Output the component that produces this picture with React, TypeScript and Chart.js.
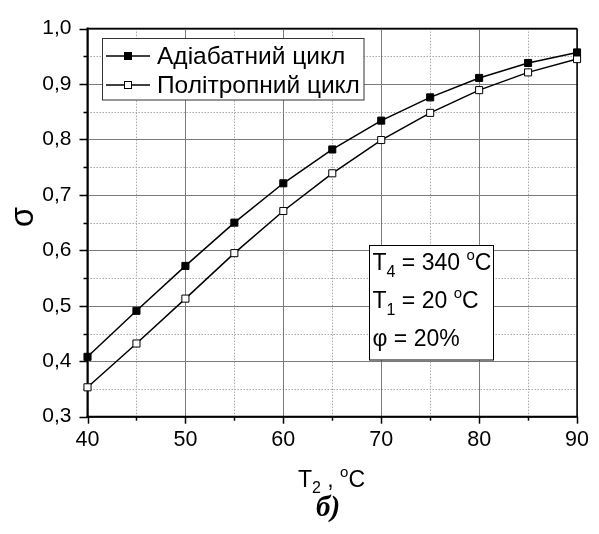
import { useEffect, useRef } from 'react';
import { Chart, registerables } from 'chart.js';

Chart.register(...registerables);

const temperatures = [40, 45, 50, 55, 60, 65, 70, 75, 80, 85, 90];
const adiabatic = [0.408, 0.491, 0.572, 0.65, 0.721, 0.782, 0.834, 0.876, 0.911, 0.938, 0.957];
const polytropic = [0.353, 0.432, 0.513, 0.595, 0.671, 0.739, 0.799, 0.848, 0.889, 0.921, 0.945];
const seriesLabels = ['Адіабатний цикл', 'Політропний цикл'];
const xMajorTicks = [40, 50, 60, 70, 80, 90];
const xMinorTicks = [45, 55, 65, 75, 85];
const yMajorTicks = [0.3, 0.4, 0.5, 0.6, 0.7, 0.8, 0.9, 1.0];
const yMinorTicks = [0.35, 0.45, 0.55, 0.65, 0.75, 0.85, 0.95];

const SANS = '"Liberation Sans", Arial, sans-serif';

type Seg = { t: string; s: number; dy?: number };

function drawRich(ctx: CanvasRenderingContext2D, x: number, y: number, segs: Seg[]) {
  let cx = x;
  for (const sg of segs) {
    ctx.font = `${sg.s}px ${SANS}`;
    ctx.fillText(sg.t, cx, y + (sg.dy || 0));
    cx += ctx.measureText(sg.t).width;
  }
}

const customPlugin = {
  id: 'customDecor',
  beforeDatasetsDraw(chart: any) {
    const { ctx, chartArea: a, scales } = chart;
    const x = scales.x;
    const y = scales.y;
    const px = (v: number) => Math.round(x.getPixelForValue(v)) + 0.5;
    const py = (v: number) => Math.round(y.getPixelForValue(v)) + 0.5;
    const line = (x1: number, y1: number, x2: number, y2: number) => {
      ctx.beginPath();
      ctx.moveTo(x1, y1);
      ctx.lineTo(x2, y2);
      ctx.stroke();
    };
    ctx.save();
    // minor dotted grid
    ctx.strokeStyle = '#a8a8a8';
    ctx.lineWidth = 1;
    ctx.setLineDash([1.5, 1.5]);
    xMinorTicks.forEach((v) => line(px(v), a.top, px(v), a.bottom));
    yMinorTicks.forEach((v) => line(a.left, py(v), a.right, py(v)));
    // major grid
    ctx.setLineDash([]);
    ctx.strokeStyle = '#7a7a7a';
    xMajorTicks.forEach((v) => line(px(v), a.top, px(v), a.bottom));
    yMajorTicks.forEach((v) => line(a.left, py(v), a.right, py(v)));
    // frame
    ctx.strokeStyle = '#000';
    ctx.lineWidth = 1.5;
    line(a.left, a.top, a.right, a.top);
    line(a.right, a.top, a.right, a.bottom);
    ctx.lineWidth = 2;
    line(a.left, a.top - 1, a.left, a.bottom + 1);
    line(a.left - 1, a.bottom, a.right + 1, a.bottom);
    // ticks
    ctx.lineWidth = 1.5;
    xMajorTicks.forEach((v) => line(px(v), a.bottom, px(v), a.bottom + 7));
    xMinorTicks.forEach((v) => line(px(v), a.bottom, px(v), a.bottom + 4));
    yMajorTicks.forEach((v) => line(a.left, py(v), a.left - 8, py(v)));
    yMinorTicks.forEach((v) => line(a.left, py(v), a.left - 4, py(v)));
    ctx.restore();
  },
  afterDraw(chart: any) {
    const { ctx } = chart;
    ctx.save();
    ctx.fillStyle = '#000';
    ctx.textBaseline = 'alphabetic';
    ctx.textAlign = 'left';

    // legend
    const lx = 102.5, ly = 38.5, lw = 261.5, lh = 61.5;
    ctx.fillStyle = '#fff';
    ctx.fillRect(lx, ly, lw, lh);
    ctx.strokeStyle = '#333';
    ctx.lineWidth = 1;
    ctx.strokeRect(lx, ly, lw, lh);
    const rows = [56, 85];
    chart.data.datasets.forEach((ds: any, i: number) => {
      const ry = rows[i];
      ctx.strokeStyle = '#000';
      ctx.lineWidth = 1.5;
      ctx.beginPath();
      ctx.moveTo(106, ry);
      ctx.lineTo(150, ry);
      ctx.stroke();
      ctx.fillStyle = ds.pointBackgroundColor;
      ctx.fillRect(124.5, ry - 3.5, 7, 7);
      ctx.lineWidth = 1;
      ctx.strokeRect(124.5, ry - 3.5, 7, 7);
      ctx.fillStyle = '#000';
      ctx.font = `24.5px ${SANS}`;
      ctx.fillText(ds.label, 157, ry + 8);
    });

    // annotation box
    const bx = 369.5, by = 245.5, bw = 124, bh = 114.5;
    ctx.fillStyle = '#fff';
    ctx.fillRect(bx, by, bw, bh);
    ctx.strokeStyle = '#000';
    ctx.lineWidth = 1;
    ctx.strokeRect(bx, by, bw, bh);
    ctx.fillStyle = '#000';
    drawRich(ctx, 372.5, 269.5, [
      { t: 'T', s: 23 },
      { t: '4', s: 16, dy: 7 },
      { t: ' = 340 ', s: 23 },
      { t: 'o', s: 15, dy: -10 },
      { t: 'C', s: 23 },
    ]);
    drawRich(ctx, 372.5, 307.5, [
      { t: 'T', s: 23 },
      { t: '1', s: 16, dy: 7 },
      { t: ' = 20 ', s: 23 },
      { t: 'o', s: 15, dy: -10 },
      { t: 'C', s: 23 },
    ]);
    drawRich(ctx, 372.5, 346, [{ t: 'φ = 20%', s: 23 }]);

    // x title
    drawRich(ctx, 298, 486.5, [
      { t: 'T', s: 23 },
      { t: '2', s: 16, dy: 6 },
      { t: ' , ', s: 23 },
      { t: 'o', s: 15, dy: -10 },
      { t: 'C', s: 23 },
    ]);

    // y title
    ctx.save();
    ctx.translate(24, 217);
    ctx.rotate(-Math.PI / 2);
    ctx.textAlign = 'center';
    ctx.textBaseline = 'middle';
    ctx.font = `33px ${SANS}`;
    ctx.fillText('σ', 0, 0);
    ctx.restore();

    // caption
    ctx.font = 'italic bold 29px "Liberation Serif", "Times New Roman", serif';
    ctx.textAlign = 'left';
    ctx.fillText('б)', 316, 516);
    ctx.restore();
  },
};

export default function App() {
  const ref = useRef<HTMLCanvasElement | null>(null);
  useEffect(() => {
    if (!ref.current) return;
    const chart = new Chart(ref.current, {
      type: 'line',
      data: {
        datasets: [
          {
            label: seriesLabels[0],
            data: temperatures.map((t, i) => ({ x: t, y: adiabatic[i] })),
            borderColor: '#000',
            borderWidth: 1.5,
            pointStyle: 'rect',
            pointRadius: 5,
            pointBorderWidth: 1,
            pointBorderColor: '#000',
            pointBackgroundColor: '#000',
            clip: false,
          } as any,
          {
            label: seriesLabels[1],
            data: temperatures.map((t, i) => ({ x: t, y: polytropic[i] })),
            borderColor: '#000',
            borderWidth: 1.5,
            pointStyle: 'rect',
            pointRadius: 5,
            pointBorderWidth: 1,
            pointBorderColor: '#000',
            pointBackgroundColor: '#fff',
            clip: false,
          } as any,
        ],
      },
      options: {
        animation: false,
        responsive: true,
        maintainAspectRatio: false,
        layout: { padding: { top: 19, right: 19, left: 0, bottom: 0 } },
        plugins: {
          legend: { display: false },
          tooltip: { enabled: false },
        },
        scales: {
          x: {
            type: 'linear',
            min: 40,
            max: 90,
            afterFit: (s: any) => {
              s.height = 117.3;
            },
            grid: { display: false, drawTicks: false },
            border: { display: false },
            ticks: {
              stepSize: 10,
              padding: 10,
              color: '#000',
              font: { family: SANS, size: 21.5 },
              maxRotation: 0,
            },
          },
          y: {
            type: 'linear',
            min: 0.3,
            max: 1.0,
            afterFit: (s: any) => {
              s.width = 87.5;
            },
            grid: { display: false, drawTicks: false },
            border: { display: false },
            ticks: {
              stepSize: 0.1,
              padding: 16,
              color: '#000',
              font: { family: SANS, size: 21 },
              callback: (v: any) => Number(v).toFixed(1).replace('.', ','),
            },
          },
        },
      },
      plugins: [customPlugin],
    });
    return () => chart.destroy();
  }, []);
  return (
    <div style={{ position: 'absolute', left: 0, top: 0, width: 599, height: 534, background: '#fff' }}>
      <canvas ref={ref} />
    </div>
  );
}
